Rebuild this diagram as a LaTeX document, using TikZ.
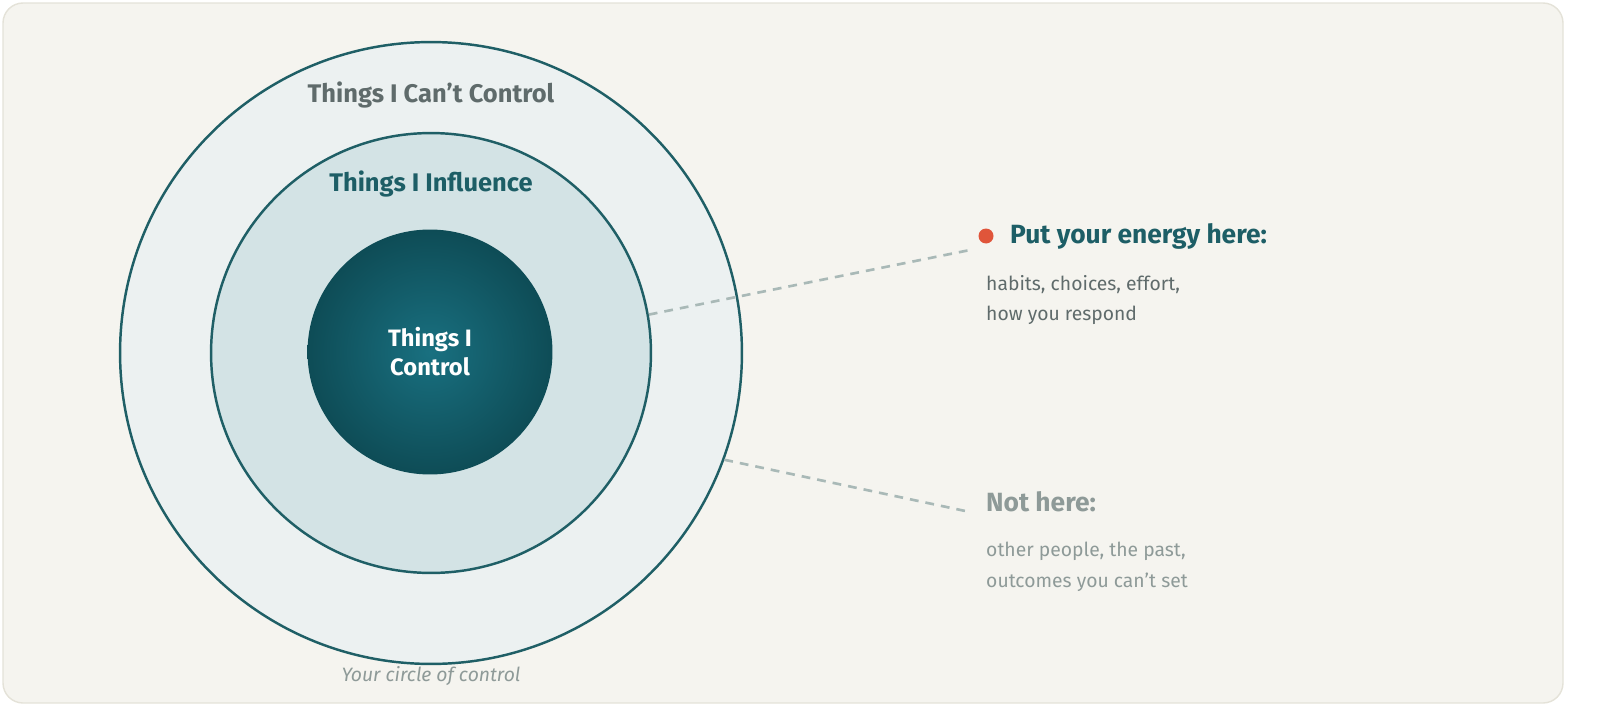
\documentclass[tikz,border=0pt]{standalone}
\usepackage{fontspec}
\setmainfont{Fira Sans}
\usetikzlibrary{positioning}
\definecolor{paper}{HTML}{F5F4EF}
\definecolor{frame}{HTML}{E4E2D8}
\definecolor{ring}{HTML}{1F5F66}
\definecolor{outerfill}{HTML}{ECF1F1}
\definecolor{midfill}{HTML}{D3E3E5}
\definecolor{teal}{HTML}{1D5E66}
\definecolor{slate}{HTML}{5F6B6B}
\definecolor{mist}{HTML}{8E9A98}
\definecolor{dashgray}{HTML}{A9B9B7}
\definecolor{dotred}{HTML}{E0553A}
\newcommand{\apos}{{\char"27}}
\tikzset{
    zone/.style={
        circle,
        draw=ring,
        line width=1.4pt,
        inner sep=0pt
    },
    ringlabel/.style={
        font=\fontsize{14.5}{16}\selectfont\bfseries
    },
    heading/.style={
        anchor=west,
        font=\fontsize{15}{17}\selectfont\bfseries
    },
    body/.style={
        anchor=west,
        align=left,
        font=\fontsize{11}{17.5}\selectfont
    },
    pointer/.style={
        draw=dashgray,
        line width=1.5pt,
        dash pattern=on 5pt off 4pt
    }
}
\begin{document}
\begin{tikzpicture}[x=0.02cm,y=-0.02cm]

\useasboundingbox (0,0) rectangle (1600,720);
\draw[fill=paper, draw=frame, line width=0.8pt, rounded corners=0.4cm] (3,3) rectangle (1563,703);

\node[zone, fill=outerfill, minimum size=12.44cm] (outer) at (431,353) {};
\node[zone, fill=midfill, minimum size=8.8cm] (middle) at (431,353) {};
\node[circle, inner sep=0pt, minimum size=4.9cm, shading=radial,
      inner color={rgb,255:red,25;green,112;blue,128},
      outer color={rgb,255:red,14;green,76;blue,86}] (inner) at (430,352) {};

\node[ringlabel, text=slate] (cantlbl) at (431,95) {Things I Can\apos t Control};
\node[ringlabel, text=teal] (inflbl) at (431,184) {Things I Influence};
\node[font=\fontsize{13.5}{16.5}\selectfont\bfseries, text=white, align=center] (ctrllbl) at (inner) {Things I\\Control};
\node[font=\fontsize{11}{12}\selectfont\itshape, text=mist] (caption) at (431,676) {Your circle of control};

% right-hand notes
\node[circle, fill=dotred, inner sep=0pt, minimum size=0.3cm] (dot) at (986,236) {};
\node[heading, text=teal] (energy) at (1004,236) {Put your energy here:};
\node[body, text=slate] (energytxt) at (980,300) {habits, choices, effort,\\how you respond};
\node[heading, text=mist] (nothere) at (980,502) {Not here:};
\node[body, text=mist] (nottxt) at (980,567) {other people, the past,\\outcomes you can\apos t set};

\coordinate (energyend) at (970,250);
\coordinate (notend) at (970,512);
\draw[pointer] (middle.{10}) -- (energyend);
\draw[pointer] (outer.{-20}) -- (notend);

\end{tikzpicture}
\end{document}
